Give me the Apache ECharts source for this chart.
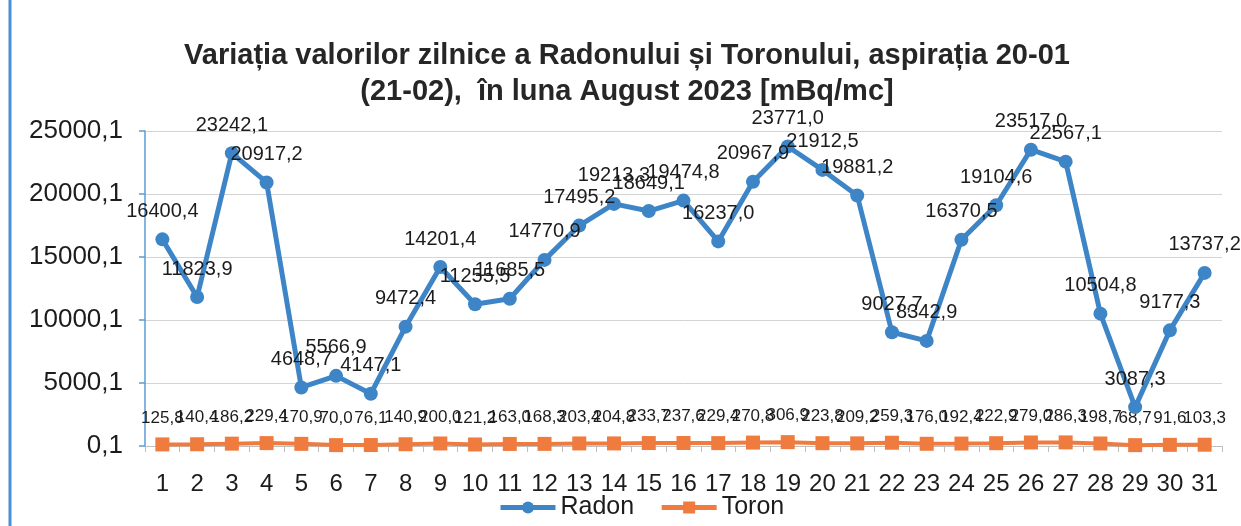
<!DOCTYPE html>
<html>
<head>
<meta charset="utf-8">
<script src="https://cdn.jsdelivr.net/npm/echarts@6/dist/echarts.min.js"></script>
<style>
  html, body { margin: 0; padding: 0; background: #fff; }
  #chart { width: 1241px; height: 526px; }
</style>
</head>
<body>
<div id="chart"></div>
<script>
// Daily values, August 2023
const days = ['1','2','3','4','5','6','7','8','9','10','11','12','13','14','15','16','17','18','19','20','21','22','23','24','25','26','27','28','29','30','31'];

const radon = [16400.4, 11823.9, 23242.1, 20917.2, 4648.7, 5566.9, 4147.1, 9472.4, 14201.4, 11255.5,
    11685.5, 14770.9, 17495.2, 19213.3, 18649.1, 19474.8, 16237.0, 20967.9, 23771.0, 21912.5,
    19881.2, 9027.7, 8342.9, 16370.5, 19104.6, 23517.0, 22567.1, 10504.8, 3087.3, 9177.3, 13737.2];

const toron = [125.8, 140.4, 186.2, 229.4, 170.9, 70.0, 76.1, 140.9, 200.0, 121.2,
    163.0, 168.3, 203.4, 204.8, 233.7, 237.6, 229.4, 270.8, 306.9, 223.8,
    209.2, 259.3, 176.0, 192.4, 222.9, 279.0, 286.3, 198.7, 68.7, 91.6, 103.3];

const COLORS = {
    radon: '#3d85c6',
    toron: '#f07b3f',
    text: '#1c1c1c',
    grid: '#d4d4d4',
    axisBlue: '#5b9bd5',
    axisGray: '#bfbfbf',
};

const FONT = '"Liberation Sans", Arial, sans-serif';
const comma = (v) => v.toFixed(1).replace('.', ',');

const chart = echarts.init(document.getElementById('chart'), null, { renderer: 'canvas' });

chart.setOption({
    backgroundColor: '#fff',
    animation: false,
    textStyle: { fontFamily: FONT, color: COLORS.text },
    title: {
        text: 'Variația valorilor zilnice a Radonului și Toronului, aspirația 20-01\n(21-02),  în luna August 2023 [mBq/mc]',
        left: 622,
        top: 33,
        textAlign: 'center',
        textStyle: { fontFamily: FONT, fontSize: 29, fontWeight: 'bold', color: '#262626', lineHeight: 36, align: 'center' },
    },
    legend: {
        data: ['Radon', 'Toron'],
        left: 493,
        bottom: 1,
        itemWidth: 55,
        itemHeight: 15,
        itemGap: 25,
        lineStyle: { width: 5 },
        textStyle: { fontFamily: FONT, fontSize: 25, color: COLORS.text },
    },
    grid: { left: 145, right: 19, top: 131, bottom: 80, containLabel: false },
    xAxis: {
        type: 'category',
        data: days,
        boundaryGap: true,
        axisLine: { lineStyle: { color: COLORS.axisGray, width: 1 } },
        axisTick: { show: true, interval: 0, length: 6, lineStyle: { color: COLORS.axisGray } },
        axisLabel: { interval: 0, margin: 26, fontFamily: FONT, fontSize: 24, color: COLORS.text },
        splitLine: { show: false },
    },
    yAxis: {
        type: 'value',
        min: 0,
        max: 25000,
        interval: 5000,
        axisLine: { show: true, lineStyle: { color: COLORS.axisBlue, width: 1.5 } },
        axisTick: { show: true, length: 6, lineStyle: { color: COLORS.axisBlue, width: 1.5 } },
        axisLabel: { margin: 22, fontFamily: FONT, fontSize: 26, color: COLORS.text, formatter: v => comma(v + 0.1) },
        splitLine: { lineStyle: { color: COLORS.grid, width: 1 } },
    },
    graphic: [
        { type: 'line', shape: { x1: 10, y1: 0, x2: 10, y2: 526 }, style: { stroke: '#4a90d9', lineWidth: 3 } },
    ],
    series: [
        {
            name: 'Radon',
            type: 'line',
            data: radon,
            symbol: 'circle',
            symbolSize: 14,
            lineStyle: { width: 5, color: COLORS.radon },
            itemStyle: { color: COLORS.radon },
            label: {
                show: true,
                position: 'top',
                distance: 11,
                fontFamily: FONT,
                fontSize: 20,
                color: COLORS.text,
                formatter: p => comma(p.value),
            },
            z: 3,
        },
        {
            name: 'Toron',
            type: 'line',
            data: toron,
            symbol: 'rect',
            symbolSize: 14,
            lineStyle: { width: 4, color: COLORS.toron },
            itemStyle: { color: COLORS.toron },
            label: {
                show: true,
                position: 'top',
                distance: 11,
                fontFamily: FONT,
                fontSize: 17,
                color: COLORS.text,
                formatter: p => comma(p.value),
            },
            z: 2,
        },
    ],
});
</script>
</body>
</html>
